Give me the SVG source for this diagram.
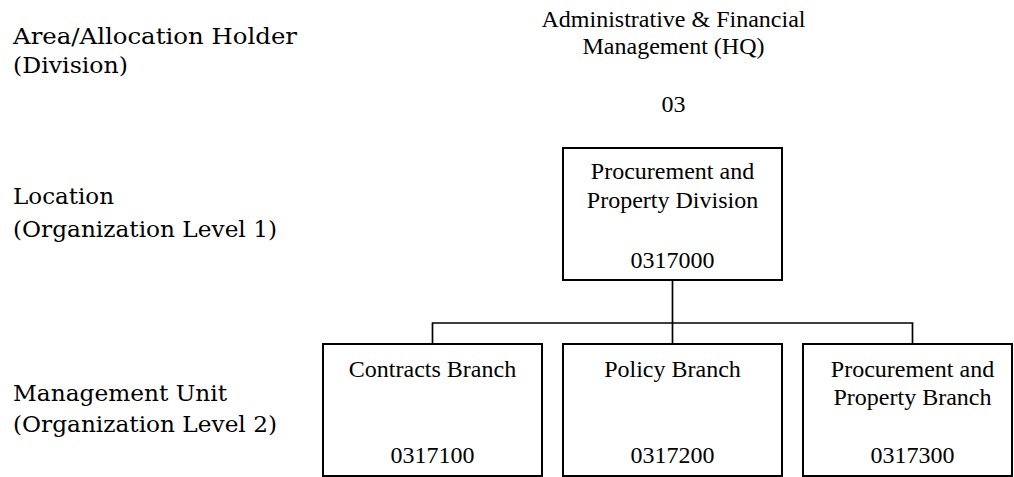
<svg xmlns="http://www.w3.org/2000/svg" width="1014" height="477" viewBox="0 0 1014 477">
<style>
.lbl{font-family:"DejaVu Serif","Liberation Serif",serif;font-size:23px;fill:#000}
.t{font-family:"Liberation Serif","Times New Roman",serif;font-size:24px;fill:#000;text-anchor:middle}
.box{fill:#fff;stroke:#000;stroke-width:2}
.conn{fill:none;stroke:#000;stroke-width:1.7}
</style>
<rect width="1014" height="477" fill="#fff"/>
<g id="level-labels">
<text class="lbl" x="13" y="44" textLength="284" lengthAdjust="spacingAndGlyphs">Area/Allocation Holder</text>
<text class="lbl" x="13" y="73" textLength="115" lengthAdjust="spacingAndGlyphs">(Division)</text>
<text class="lbl" x="13" y="204" textLength="101" lengthAdjust="spacingAndGlyphs">Location</text>
<text class="lbl" x="13" y="237" textLength="264" lengthAdjust="spacingAndGlyphs">(Organization Level 1)</text>
<text class="lbl" x="13" y="401" textLength="214" lengthAdjust="spacingAndGlyphs">Management Unit</text>
<text class="lbl" x="13" y="432" textLength="264" lengthAdjust="spacingAndGlyphs">(Organization Level 2)</text>
</g>
<g id="connectors">
<path class="conn" d="M672.5 280 V344 M432.5 344 V323 H912.5 V344"/>
</g>
<g id="node-hq">
<text class="t" x="673.5" y="27">Administrative &amp; Financial</text>
<text class="t" x="673.5" y="54">Management (HQ)</text>
<text class="t" x="673.5" y="112">03</text>
</g>
<g id="node-ppd">
<rect class="box" x="563" y="148" width="219" height="132"/>
<text class="t" x="672.5" y="179">Procurement and</text>
<text class="t" x="672.5" y="208">Property Division</text>
<text class="t" x="672.5" y="268">0317000</text>
</g>
<g id="node-contracts">
<rect class="box" x="323" y="344" width="219" height="132"/>
<text class="t" x="432.5" y="377">Contracts Branch</text>
<text class="t" x="432.5" y="463">0317100</text>
</g>
<g id="node-policy">
<rect class="box" x="563" y="344" width="219" height="132"/>
<text class="t" x="672.5" y="377">Policy Branch</text>
<text class="t" x="672.5" y="463">0317200</text>
</g>
<g id="node-ppb">
<rect class="box" x="803" y="344" width="209" height="132"/>
<text class="t" x="912.5" y="377">Procurement and</text>
<text class="t" x="912.5" y="405">Property Branch</text>
<text class="t" x="912.5" y="463">0317300</text>
</g>
</svg>
